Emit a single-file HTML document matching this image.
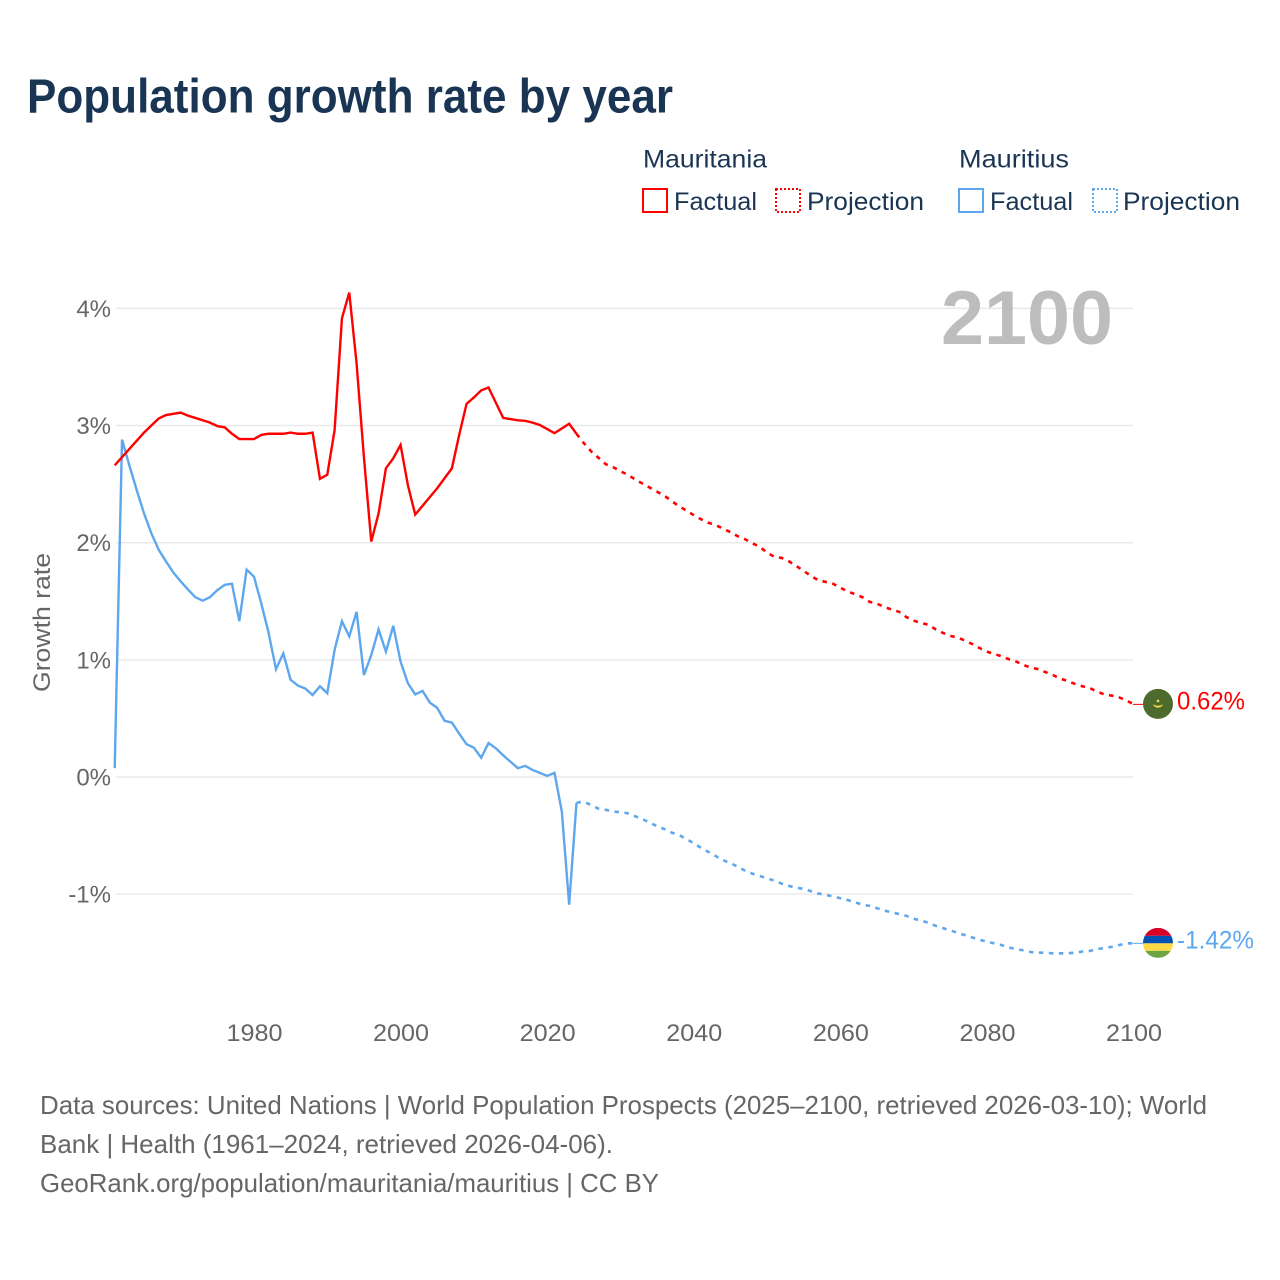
<!DOCTYPE html>
<html lang="en">
<head>
<meta charset="utf-8">
<title>Population growth rate by year</title>
<style>
html,body{margin:0;padding:0;background:#fff;width:1280px;height:1280px;overflow:hidden}
svg{display:block}
text{font-family:"Liberation Sans",sans-serif}
</style>
</head>
<body>
<svg id="chart" xmlns="http://www.w3.org/2000/svg" width="1280" height="1280" viewBox="0 0 1280 1280">
  <rect x="0" y="0" width="1280" height="1280" fill="#ffffff"/>
  <text x="27" y="112.5" font-size="48" font-weight="700" fill="#1a3554" textLength="646" lengthAdjust="spacingAndGlyphs">Population growth rate by year</text>

  <g font-size="25" fill="#1a3554">
    <text x="643" y="167.5" textLength="124" lengthAdjust="spacingAndGlyphs">Mauritania</text>
    <text x="959" y="167.5" textLength="110" lengthAdjust="spacingAndGlyphs">Mauritius</text>
    <rect x="643" y="189" width="24" height="23" fill="none" stroke="#ff0000" stroke-width="2"/>
    <text x="674" y="210" textLength="83" lengthAdjust="spacingAndGlyphs">Factual</text>
    <rect x="776" y="189" width="24" height="23" fill="none" stroke="#ff0000" stroke-width="2" stroke-dasharray="2 2"/>
    <text x="807" y="210" textLength="117" lengthAdjust="spacingAndGlyphs">Projection</text>
    <rect x="959" y="189" width="24" height="23" fill="none" stroke="#5ea7ee" stroke-width="2"/>
    <text x="990" y="210" textLength="83" lengthAdjust="spacingAndGlyphs">Factual</text>
    <rect x="1093" y="189" width="24" height="23" fill="none" stroke="#5ea7ee" stroke-width="2" stroke-dasharray="2 2"/>
    <text x="1123" y="210" textLength="117" lengthAdjust="spacingAndGlyphs">Projection</text>
  </g>

  <g id="grid"></g>
  <g id="yticks"></g>
  <g id="xticks"></g>

  <text transform="translate(50,692) rotate(-90)" font-size="24" fill="#666666" textLength="139" lengthAdjust="spacingAndGlyphs">Growth rate</text>
  <text x="941" y="344" font-size="76" font-weight="700" fill="#bdbdbd" textLength="172" lengthAdjust="spacingAndGlyphs">2100</text>

  <g id="series"></g>
  <g id="ends"></g>

  <g font-size="26" fill="#666666">
    <text x="40" y="1114" textLength="1167" lengthAdjust="spacingAndGlyphs">Data sources: United Nations | World Population Prospects (2025–2100, retrieved 2026-03-10); World</text>
    <text x="40" y="1153" textLength="573" lengthAdjust="spacingAndGlyphs">Bank | Health (1961–2024, retrieved 2026-04-06).</text>
    <text x="40" y="1192" textLength="619" lengthAdjust="spacingAndGlyphs">GeoRank.org/population/mauritania/mauritius | CC BY</text>
  </g>
</svg>

<script>
const factualStartYear = 1961;
const projectionStartYear = 2024;
const yTickValues = [-1, 0, 1, 2, 3, 4];
const yTickLabels = ["-1%", "0%", "1%", "2%", "3%", "4%"];
const xTickYears = [1980, 2000, 2020, 2040, 2060, 2080, 2100];
const xTickLabels = ["1980", "2000", "2020", "2040", "2060", "2080", "2100"];

const mauritaniaFactual = [
  2.66, 2.73, 2.80, 2.87, 2.94, 3.00, 3.06, 3.09, 3.10, 3.11,
  3.085, 3.065, 3.045, 3.025, 2.995, 2.985, 2.93, 2.885, 2.885, 2.885,
  2.92, 2.93, 2.93, 2.93, 2.94, 2.93, 2.93, 2.94, 2.545, 2.58,
  2.96, 3.915, 4.135, 3.53, 2.73, 2.01, 2.25, 2.635, 2.72, 2.835,
  2.49, 2.24, 2.315, 2.39, 2.465, 2.55, 2.635, 2.92, 3.185, 3.24,
  3.30, 3.325, 3.195, 3.065, 3.055, 3.045, 3.04, 3.025, 3.005, 2.97,
  2.935, 2.975, 3.015, 2.93
];
const mauritaniaProjection = [
  2.93, 2.85, 2.78, 2.725, 2.67, 2.645, 2.61, 2.58, 2.54, 2.505, 2.47,
  2.435, 2.40, 2.355, 2.31, 2.275, 2.235, 2.20, 2.17, 2.15, 2.12,
  2.09, 2.055, 2.03, 1.995, 1.965, 1.915, 1.88, 1.87, 1.84, 1.80,
  1.76, 1.715, 1.68, 1.665, 1.65, 1.615, 1.585, 1.56, 1.535, 1.495,
  1.48, 1.45, 1.43, 1.41, 1.365, 1.335, 1.315, 1.30, 1.26, 1.23,
  1.205, 1.19, 1.165, 1.135, 1.10, 1.07, 1.05, 1.03, 1.005, 0.985,
  0.955, 0.935, 0.92, 0.895, 0.87, 0.84, 0.82, 0.795, 0.775, 0.76,
  0.73, 0.705, 0.695, 0.68, 0.655, 0.62
];
const mauritiusFactual = [
  0.075, 2.88, 2.66, 2.45, 2.25, 2.08, 1.94, 1.84, 1.745, 1.67,
  1.60, 1.535, 1.505, 1.535, 1.595, 1.64, 1.65, 1.33, 1.77, 1.71,
  1.48, 1.23, 0.92, 1.055, 0.83, 0.78, 0.755, 0.70, 0.775, 0.715,
  1.085, 1.33, 1.20, 1.41, 0.87, 1.04, 1.26, 1.07, 1.29, 0.985,
  0.80, 0.705, 0.735, 0.635, 0.59, 0.48, 0.465, 0.37, 0.28, 0.25,
  0.165, 0.29, 0.245, 0.185, 0.13, 0.075, 0.095, 0.06, 0.035, 0.01,
  0.035, -0.295, -1.09, -0.22
];
const mauritiusProjection = [
  -0.22, -0.21, -0.24, -0.27, -0.28, -0.295, -0.30, -0.31, -0.335, -0.36, -0.39,
  -0.42, -0.445, -0.475, -0.495, -0.53, -0.565, -0.605, -0.64, -0.675, -0.71,
  -0.735, -0.765, -0.80, -0.825, -0.845, -0.865, -0.885, -0.91, -0.93, -0.945,
  -0.955, -0.975, -0.995, -1.005, -1.02, -1.035, -1.05, -1.07, -1.09, -1.10,
  -1.12, -1.14, -1.155, -1.17, -1.185, -1.21, -1.225, -1.245, -1.27, -1.29,
  -1.31, -1.33, -1.35, -1.37, -1.39, -1.405, -1.42, -1.435, -1.455, -1.47,
  -1.48, -1.495, -1.50, -1.50, -1.505, -1.505, -1.505, -1.50, -1.49, -1.485,
  -1.47, -1.46, -1.45, -1.435, -1.42, -1.42
];

const SVG_NS = "http://www.w3.org/2000/svg";
const RED = "#ff0000";
const BLUE = "#5ea7ee";

function xScale(year) { return 114.7 + (year - 1961) * 7.33; }
function yScale(value) { return 777 - value * 117.15; }

function make(tag, attrs, parent) {
  const el = document.createElementNS(SVG_NS, tag);
  for (const k in attrs) el.setAttribute(k, attrs[k]);
  parent.appendChild(el);
  return el;
}

function pathFor(values, startYear) {
  return values.map(function (v, i) {
    return (i ? "L" : "M") + xScale(startYear + i).toFixed(2) + " " + yScale(v).toFixed(2);
  }).join(" ");
}

const gridLayer = document.getElementById("grid");
const yLayer = document.getElementById("yticks");
const xLayer = document.getElementById("xticks");
const seriesLayer = document.getElementById("series");
const endLayer = document.getElementById("ends");

yTickValues.forEach(function (v, i) {
  const line = make("line", { x1: 116, x2: 1133, y1: yScale(v), y2: yScale(v), stroke: "#e9e9e9", "stroke-width": 1.5 }, gridLayer);
  
  
  const label = make("text", { x: 111, y: yScale(v) + 8.5, "text-anchor": "end", "font-size": 24, fill: "#666666" }, yLayer);
  
  
  label.textContent = yTickLabels[i];
});

xTickYears.forEach(function (yr, i) {
  const label = make("text", { x: xScale(yr) + 0.5, y: 1041, "text-anchor": "middle", "font-size": 24, fill: "#666666", textLength: 56, lengthAdjust: "spacingAndGlyphs" }, xLayer);
  
  
  label.textContent = xTickLabels[i];
});

function drawLine(values, startYear, color, dashed, name) {
  const attrs = { d: pathFor(values, startYear), fill: "none", stroke: color, "stroke-width": dashed ? 2.6 : 2.4 };
  if (dashed) attrs["stroke-dasharray"] = "4.5 5.5";
  const p = make("path", attrs, seriesLayer);
  
  
  return p;
}

drawLine(mauritaniaProjection, projectionStartYear, RED, true, "mauritania-projection-line");
drawLine(mauritiusProjection, projectionStartYear, BLUE, true, "mauritius-projection-line");
drawLine(mauritiusFactual, factualStartYear, BLUE, false, "mauritius-factual-line");
drawLine(mauritaniaFactual, factualStartYear, RED, false, "mauritania-factual-line");

function drawEnd(values, color, textWidth, name) {
  const last = values[values.length - 1];
  const y = yScale(last);
  const g = make("g", {}, endLayer);
  
  
  const stub = make("line", { x1: 1133, x2: 1143, y1: y, y2: y, stroke: color, "stroke-width": 1 }, g);
  
  
  const label = make("text", { x: 1177, y: y + 5, "font-size": 25, fill: color, textLength: textWidth, lengthAdjust: "spacingAndGlyphs" }, g);
  
  
  label.textContent = last.toFixed(2) + "%";
  return { g: g, y: y };
}

const redEnd = drawEnd(mauritaniaProjection, RED, 68, "mauritania");
const blueEnd = drawEnd(mauritiusProjection, BLUE, 77, "mauritius");

const mauritaniaFlag = make("g", { transform: "translate(1158," + (redEnd.y - 0.5) + ")" }, redEnd.g);


make("circle", { cx: 0, cy: 0, r: 15, fill: "#4d6b2c" }, mauritaniaFlag);
make("path", { d: "M-5.2 0 A5.5 5.5 0 0 0 5.2 0 A6 3.8 0 0 1 -5.2 0 Z", fill: "#ffda44" }, mauritaniaFlag);
make("circle", { cx: 0, cy: -3, r: 1.3, fill: "#ffda44" }, mauritaniaFlag);

const mauritiusFlag = make("g", { transform: "translate(1158," + (blueEnd.y - 0.5) + ")" }, blueEnd.g);


make("clipPath", { id: "mu-clip" }, mauritiusFlag);
make("circle", { cx: 0, cy: 0, r: 15 }, mauritiusFlag.querySelector("clipPath"));
const stripes = make("g", { "clip-path": "url(#mu-clip)" }, mauritiusFlag);
make("rect", { x: -15, y: -15, width: 30, height: 8, fill: "#d80027" }, stripes);
make("rect", { x: -15, y: -7, width: 30, height: 7.5, fill: "#0052b4" }, stripes);
make("rect", { x: -15, y: 0.5, width: 30, height: 7.5, fill: "#ffda44" }, stripes);
make("rect", { x: -15, y: 8, width: 30, height: 7, fill: "#6da544" }, stripes);
</script>
</body>
</html>
